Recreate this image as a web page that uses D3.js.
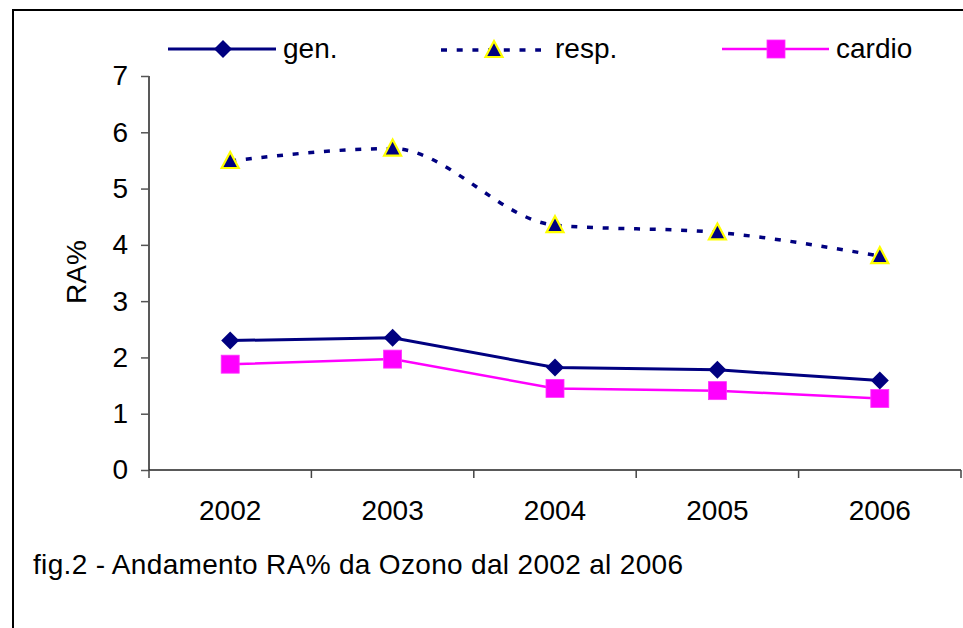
<!DOCTYPE html>
<html>
<head>
<meta charset="utf-8">
<script src="https://cdn.jsdelivr.net/npm/d3@7/dist/d3.min.js"></script>
<style>
  html, body { margin: 0; padding: 0; background: #fff; }
  svg { display: block; font-family: Arial, "Liberation Sans", sans-serif; }
</style>
</head>
<body>
<svg id="chart" width="963" height="628"></svg>
<script>
const years = ["2002", "2003", "2004", "2005", "2006"];
const gen = [2.30, 2.35, 1.82, 1.78, 1.59];
const resp = [5.49, 5.71, 4.35, 4.22, 3.80];
const cardio = [1.88, 1.97, 1.45, 1.41, 1.27];
const yTicks = [0, 1, 2, 3, 4, 5, 6, 7];
const seriesNames = ["gen.", "resp.", "cardio"];
const caption = "fig.2 - Andamento RA% da Ozono dal 2002 al 2006";
const yLabel = "RA%";

const svg = d3.select("#chart");
const navy = "#000080", magenta = "#FF00FF", yellow = "#FFFF00";
const FS = 28;

// frame
svg.append("rect").attr("x", 13).attr("y", 10).attr("width", 1000).attr("height", 700)
  .attr("fill", "#fff").attr("stroke", "#000").attr("stroke-width", 2);

const x = d3.scaleBand().domain(years).range([149, 961]).paddingInner(0).paddingOuter(0);
const y = d3.scaleLinear().domain([0, 7]).range([470, 76]);
const cx = d => x(d) + x.bandwidth() / 2;

// y axis
const yAxis = svg.append("g").attr("transform", "translate(149,0)")
  .call(d3.axisLeft(y).tickValues(yTicks).tickSize(8).tickPadding(13).tickFormat(d3.format("d")));
yAxis.select(".domain").attr("stroke", "#222").attr("stroke-width", 1.5).attr("d", `M0,${y(7)}V${y(0)}`);
yAxis.selectAll(".tick line").attr("stroke", "#555").attr("stroke-width", 1.5);
yAxis.selectAll(".tick text").attr("font-size", FS).attr("font-family", "Arial, 'Liberation Sans', sans-serif").attr("fill", "#000");

// x axis
const xg = svg.append("g");
xg.append("line").attr("x1", 149).attr("x2", 961).attr("y1", y(0)).attr("y2", y(0))
  .attr("stroke", "#222").attr("stroke-width", 1.5);
const bounds = years.map(d => x(d)).concat([x(years[years.length - 1]) + x.bandwidth()]);
xg.selectAll("line.xt").data(bounds).enter().append("line").attr("class", "xt")
  .attr("x1", d => d).attr("x2", d => d).attr("y1", y(0)).attr("y2", y(0) + 8)
  .attr("stroke", "#444").attr("stroke-width", 1.5);
xg.selectAll("text").data(years).enter().append("text")
  .attr("x", d => cx(d)).attr("y", 520).attr("text-anchor", "middle")
  .attr("font-size", FS).attr("fill", "#000").text(d => d);

// y label
svg.append("text").attr("transform", "translate(86,272) rotate(-90)")
  .attr("text-anchor", "middle").attr("font-size", FS).attr("fill", "#000").text(yLabel);

// lines
const lineStraight = d3.line().x((d, i) => cx(years[i])).y(d => y(d));
const lineSmooth = d3.line().x((d, i) => cx(years[i])).y(d => y(d)).curve(d3.curveMonotoneX);

svg.append("path").datum(cardio).attr("d", lineStraight).attr("fill", "none")
  .attr("stroke", magenta).attr("stroke-width", 2.5);
svg.append("path").datum(gen).attr("d", lineStraight).attr("fill", "none")
  .attr("stroke", navy).attr("stroke-width", 3);
svg.append("path").datum(resp).attr("d", lineSmooth).attr("fill", "none")
  .attr("stroke", navy).attr("stroke-width", 3.5).attr("stroke-dasharray", "6,9.7");

const diamond = (s) => `M0,${-s}L${s},0L0,${s}L${-s},0Z`;
const triangle = `M0,-9L8.5,7L-8.5,7Z`;

function drawDiamond(g, px, py) {
  g.append("path").attr("d", diamond(9)).attr("transform", `translate(${px},${py})`).attr("fill", navy);
}
function drawTriangle(g, px, py) {
  g.append("path").attr("d", triangle).attr("transform", `translate(${px},${py})`)
    .attr("fill", navy).attr("stroke", yellow).attr("stroke-width", 2.2).attr("stroke-linejoin", "miter");
}
function drawSquare(g, px, py) {
  g.append("rect").attr("x", px - 9).attr("y", py - 9).attr("width", 18).attr("height", 18)
    .attr("fill", magenta).attr("stroke", "#FF33FF").attr("stroke-width", 0.8);
}

const mk = svg.append("g");
cardio.forEach((v, i) => drawSquare(mk, cx(years[i]), y(v)));
gen.forEach((v, i) => drawDiamond(mk, cx(years[i]), y(v)));
resp.forEach((v, i) => drawTriangle(mk, cx(years[i]), y(v)));

// legend
const lg = svg.append("g");
const ly = 49;
lg.append("line").attr("x1", 168).attr("x2", 276).attr("y1", ly).attr("y2", ly).attr("stroke", navy).attr("stroke-width", 3);
drawDiamond(lg, 223, ly);
lg.append("text").attr("x", 283).attr("y", 58).attr("font-size", FS).text(seriesNames[0]);

lg.append("line").attr("x1", 441).attr("x2", 541).attr("y1", ly + 1).attr("y2", ly + 1).attr("stroke", navy)
  .attr("stroke-width", 3.5).attr("stroke-dasharray", "6,9.7").attr("stroke-dashoffset", 0);
drawTriangle(lg, 494, ly + 1);
lg.append("text").attr("x", 555).attr("y", 58).attr("font-size", FS).text(seriesNames[1]);

lg.append("line").attr("x1", 722).attr("x2", 829).attr("y1", ly).attr("y2", ly).attr("stroke", magenta).attr("stroke-width", 2.5);
drawSquare(lg, 776, ly);
lg.append("text").attr("x", 836).attr("y", 58).attr("font-size", FS).text(seriesNames[2]);

// caption
svg.append("text").attr("x", 33).attr("y", 574).attr("font-size", FS).attr("fill", "#000")
  .attr("textLength", 650).attr("lengthAdjust", "spacing").text(caption);
</script>
</body>
</html>
